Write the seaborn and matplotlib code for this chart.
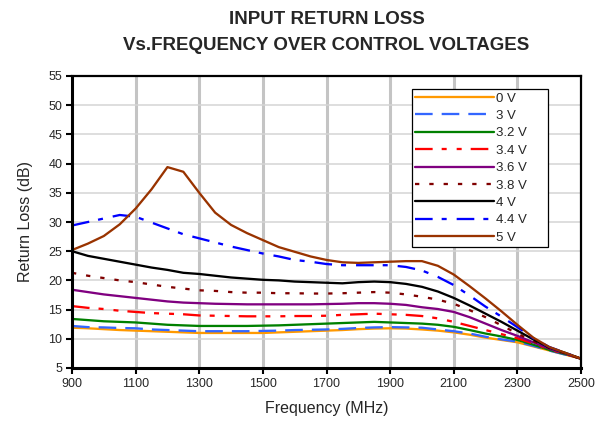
import numpy as np
import pandas as pd
import matplotlib
matplotlib.use("Agg")
import matplotlib.pyplot as plt
import seaborn as sns

FREQ = [900, 950, 1000, 1050, 1100, 1150, 1200, 1250, 1300, 1350, 1400, 1450,
        1500, 1550, 1600, 1650, 1700, 1750, 1800, 1850, 1900, 1950, 2000, 2050,
        2100, 2150, 2200, 2250, 2300, 2350, 2400, 2450, 2500]

V0 = [11.9, 11.8, 11.65, 11.5, 11.4, 11.3, 11.2, 11.1, 11.0, 11.0, 11.0, 11.0,
      11.0, 11.1, 11.2, 11.3, 11.4, 11.5, 11.65, 11.75, 11.8, 11.75, 11.6, 11.4,
      11.1, 10.7, 10.2, 9.8, 9.4, 8.7, 8.0, 7.3, 6.6]
V3 = [12.2, 12.0, 11.95, 11.85, 11.8, 11.6, 11.5, 11.4, 11.3, 11.3, 11.3, 11.3,
      11.35, 11.4, 11.5, 11.55, 11.6, 11.7, 11.85, 11.95, 12.0, 11.95, 11.9, 11.6,
      11.3, 10.9, 10.35, 9.9, 9.5, 8.8, 8.0, 7.3, 6.6]
V3_2 = [13.4, 13.2, 13.0, 12.9, 12.8, 12.6, 12.4, 12.3, 12.2, 12.2, 12.2, 12.2,
        12.25, 12.3, 12.4, 12.5, 12.6, 12.7, 12.8, 12.9, 12.8, 12.7, 12.6, 12.4,
        12.05, 11.5, 10.9, 10.4, 9.8, 9.0, 8.1, 7.4, 6.6]
V3_4 = [15.6, 15.3, 15.1, 14.8, 14.6, 14.4, 14.3, 14.2, 14.0, 13.95, 13.9, 13.85,
        13.85, 13.85, 13.9, 13.9, 13.95, 14.1, 14.2, 14.3, 14.2, 14.1, 13.9, 13.5,
        12.9, 12.2, 11.5, 10.8, 10.1, 9.2, 8.2, 7.4, 6.6]
V3_6 = [18.4, 18.0, 17.6, 17.3, 17.0, 16.7, 16.4, 16.2, 16.1, 16.0, 15.95, 15.9,
        15.9, 15.9, 15.9, 15.9, 15.95, 16.0, 16.1, 16.1, 16.0, 15.8, 15.4, 15.1,
        14.6, 13.7, 12.6, 11.5, 10.5, 9.4, 8.3, 7.5, 6.6]
V3_8 = [21.3, 20.8, 20.4, 20.0, 19.7, 19.3, 18.9, 18.6, 18.3, 18.2, 18.0, 17.9,
        17.9, 17.8, 17.8, 17.75, 17.75, 17.8, 17.9, 18.0, 17.9, 17.6, 17.2, 16.7,
        16.0, 14.9, 13.7, 12.3, 10.9, 9.6, 8.4, 7.5, 6.6]
V4 = [25.0, 24.2, 23.7, 23.2, 22.7, 22.2, 21.8, 21.3, 21.1, 20.8, 20.5, 20.3,
      20.1, 20.0, 19.8, 19.7, 19.6, 19.5, 19.7, 19.8, 19.7, 19.4, 18.9, 18.1,
      17.0, 15.7, 14.3, 12.9, 11.4, 9.9, 8.5, 7.6, 6.6]
V4_4 = [29.4, 30.0, 30.6, 31.2, 30.9, 29.9, 28.9, 27.9, 27.2, 26.5, 25.8, 25.2,
        24.6, 24.1, 23.5, 23.2, 22.8, 22.6, 22.6, 22.6, 22.6, 22.3, 21.7, 20.6,
        19.2, 17.4, 15.5, 13.8, 12.0, 10.1, 8.6, 7.6, 6.6]
V5 = [25.2, 26.3, 27.6, 29.6, 32.3, 35.6, 39.4, 38.6, 35.0, 31.6, 29.5, 28.1,
      26.9, 25.7, 24.9, 24.1, 23.5, 23.1, 23.0, 23.1, 23.2, 23.3, 23.3, 22.5,
      21.0, 19.0, 16.9, 14.7, 12.4, 10.2, 8.6, 7.6, 6.6]

LABELS = ["0 V", "3 V", "3.2 V", "3.4 V", "3.6 V", "3.8 V", "4 V", "4.4 V", "5 V"]
SERIES = [V0, V3, V3_2, V3_4, V3_6, V3_8, V4, V4_4, V5]
COLORS = ["#FF9900", "#3366FF", "#008000", "#FF0000", "#800080",
          "#800000", "#000000", "#0000FF", "#993300"]
DASHES = ["", (12.7, 6.5), "", (12.7, 6.5, 3.6, 7.2, 3.6, 6.5), "",
          (3.1, 7.2), "", (12.7, 6.5, 3.6, 7.2), ""]
X_TICKS = [900, 1100, 1300, 1500, 1700, 1900, 2100, 2300, 2500]
Y_TICKS = [5, 10, 15, 20, 25, 30, 35, 40, 45, 50, 55]

sns.set_theme(style="white")
plt.rcParams["font.family"] = ["Liberation Sans", "DejaVu Sans"]
plt.rcParams["lines.scale_dashes"] = False

rows = []
for lab, vals in zip(LABELS, SERIES):
    for f, v in zip(FREQ, vals):
        rows.append({"Frequency": f, "RL": v, "Voltage": lab})
df = pd.DataFrame(rows)

fig = plt.figure(figsize=(6.03, 4.22), dpi=100)
ax = fig.add_axes([72 / 603, 1 - 368 / 422, (581 - 72) / 603, (368 - 76) / 422])

palette = dict(zip(LABELS, COLORS))
dashes = dict(zip(LABELS, DASHES))
sns.lineplot(data=df, x="Frequency", y="RL", hue="Voltage", style="Voltage",
             hue_order=LABELS, style_order=LABELS, palette=palette,
             dashes=dashes, linewidth=1.65, estimator=None, sort=False,
             ax=ax, legend=True)

ax.set_xlim(900, 2500)
ax.set_ylim(5, 55)
ax.set_xticks(X_TICKS)
ax.set_yticks(Y_TICKS)
ax.set_xticklabels([str(t) for t in X_TICKS], fontsize=9)
ax.set_yticklabels([str(t) for t in Y_TICKS], fontsize=9)
ax.tick_params(axis="both", direction="out", length=4, width=1.5, color="black",
               pad=3, left=True, bottom=True)

for x in X_TICKS[1:-1]:
    ax.axvline(x, color="#C4C4C4", lw=2.2, zorder=0)
for y in Y_TICKS[1:-1]:
    ax.axhline(y, color="#D4D4D4", lw=1.1, zorder=0)

for side in ["left", "bottom"]:
    ax.spines[side].set_linewidth(2.2)
    ax.spines[side].set_color("black")
for side in ["top", "right"]:
    ax.spines[side].set_linewidth(1.6)
    ax.spines[side].set_color("black")

ax.set_xlabel("Frequency (MHz)", fontsize=11.5, labelpad=8)
ax.set_ylabel("Return Loss (dB)", fontsize=11.5, labelpad=11)

h, l = ax.get_legend_handles_labels()
leg = ax.legend(h, l, loc="upper left", bbox_to_anchor=(0.668, 0.955, 0.267, 0.0),
                mode="expand", fontsize=9.5, handlelength=5.95, handletextpad=0.15,
                labelspacing=0.39, borderpad=0.25, frameon=True, fancybox=False,
                borderaxespad=0)
leg.get_frame().set_edgecolor("black")
leg.get_frame().set_linewidth(0.9)
leg.get_frame().set_alpha(1)

fig.text(0.5415, 1 - 19 / 422, "INPUT RETURN LOSS", ha="center", va="center",
         fontsize=13.5, fontweight="bold")
fig.text(0.5415, 1 - 46 / 422, "Vs.FREQUENCY OVER CONTROL VOLTAGES", ha="center",
         va="center", fontsize=13.5, fontweight="bold")

fig.savefig("out.png", dpi=100)
